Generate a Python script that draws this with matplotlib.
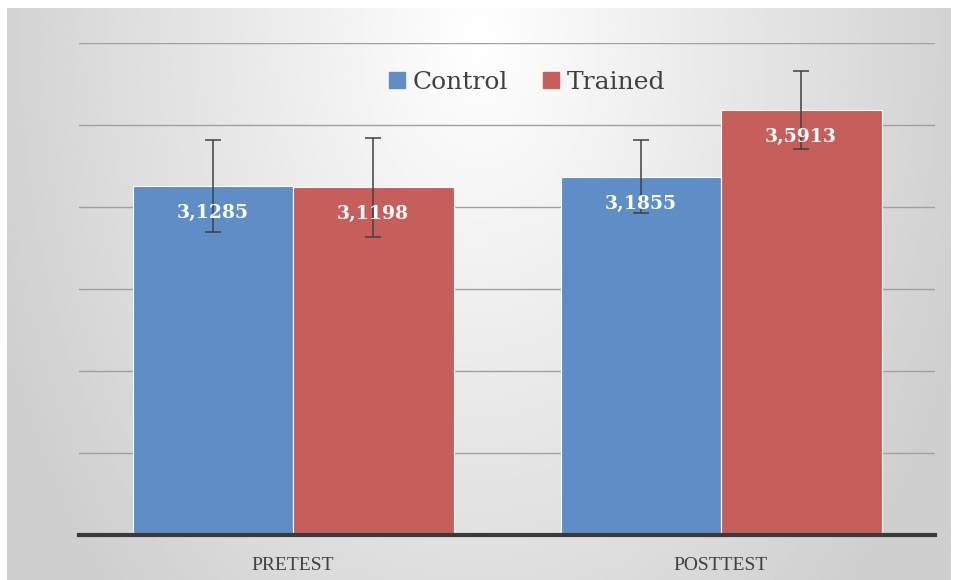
"""Bar chart of pretest / posttest means for control and trained groups."""

import numpy as np
import matplotlib
matplotlib.use("Agg")
import matplotlib.pyplot as plt
from matplotlib.patches import Patch

categories = ["PRETEST", "POSTTEST"]
control_means = [3.1285, 3.1855]
trained_means = [3.1198, 3.5913]
control_err = [0.278, 0.225]
trained_err = [0.30, 0.24]
control_labels = ["3,1285", "3,1855"]
trained_labels = ["3,1198", "3,5913"]

BLUE = "#5f8dc6"
RED = "#c65e5b"


def draw_background(fig):
    # soft radial grey gradient, lightest at the top centre
    bg = fig.add_axes([7 / 956, 0, 943 / 956, 572 / 580], zorder=-10)
    h, w = 300, 500
    v, u = np.mgrid[0:h, 0:w]
    u = u / (w - 1)
    v = v / (h - 1)
    d = np.sqrt(((u - 0.5) / 0.55) ** 2 + ((v - 0.05) / 1.4) ** 2)
    val = 1.0 - 0.19 * np.clip(d, 0, 1)
    bg.imshow(val, cmap="gray", vmin=0, vmax=1, aspect="auto",
              extent=[0, 1, 0, 1], interpolation="bilinear")
    bg.set_axis_off()


def main():
    fig = plt.figure(figsize=[9.56, 5.8], dpi=100)
    fig.patch.set_facecolor("white")
    draw_background(fig)

    ax = fig.add_axes([79 / 956, 45 / 580, 856 / 956, 492 / 580])
    ax.patch.set_alpha(0)

    x = np.arange(len(categories))
    width = 0.375
    err_kw = dict(ecolor="#404040", elinewidth=1.1, capsize=6, capthick=1.1)
    ax.bar(x - width / 2, control_means, width, color=BLUE, edgecolor="white",
           linewidth=0.8, yerr=control_err, error_kw=err_kw, zorder=3)
    ax.bar(x + width / 2, trained_means, width, color=RED, edgecolor="white",
           linewidth=0.8, yerr=trained_err, error_kw=err_kw, zorder=3)

    for xi, val, lab in zip(x - width / 2, control_means, control_labels):
        ax.annotate(lab, (xi, val), xytext=(0, -19.5), textcoords="offset points",
                    ha="center", va="center", color="white", fontsize=13.5,
                    fontweight="bold", family="DejaVu Serif", zorder=5)
    for xi, val, lab in zip(x + width / 2, trained_means, trained_labels):
        ax.annotate(lab, (xi, val), xytext=(0, -19.5), textcoords="offset points",
                    ha="center", va="center", color="white", fontsize=13.5,
                    fontweight="bold", family="DejaVu Serif", zorder=5)

    ax.set_xlim(-0.5, 1.5)
    ax.set_ylim(1.0, 4.0)
    ax.set_yticks(np.arange(1.5, 4.01, 0.5))
    ax.yaxis.grid(True, color="#a0a0a0", linewidth=1.0, zorder=0)
    ax.tick_params(axis="y", left=False, labelleft=False)
    ax.tick_params(axis="x", bottom=False, pad=12)
    ax.set_xticks(x)
    ax.set_xticklabels(categories, family="Liberation Serif", fontsize=14,
                       color="#404040")

    for side in ["top", "right", "left"]:
        ax.spines[side].set_visible(False)
    ax.spines["bottom"].set_color("#3a3a3a")
    ax.spines["bottom"].set_linewidth(3)
    ax.spines["bottom"].set_zorder(4)

    handles = [Patch(color=BLUE, label="Control"), Patch(color=RED, label="Trained")]
    ax.legend(handles=handles, loc="center", bbox_to_anchor=(0.523, 0.92), ncol=2,
              frameon=False, prop={"family": "DejaVu Serif", "size": 18},
              handlelength=0.65, handleheight=0.65, handletextpad=0.3,
              columnspacing=1.4, labelcolor="#404040")

    plt.savefig("out.png", dpi=100)
    plt.close(fig)


if __name__ == "__main__":
    main()
